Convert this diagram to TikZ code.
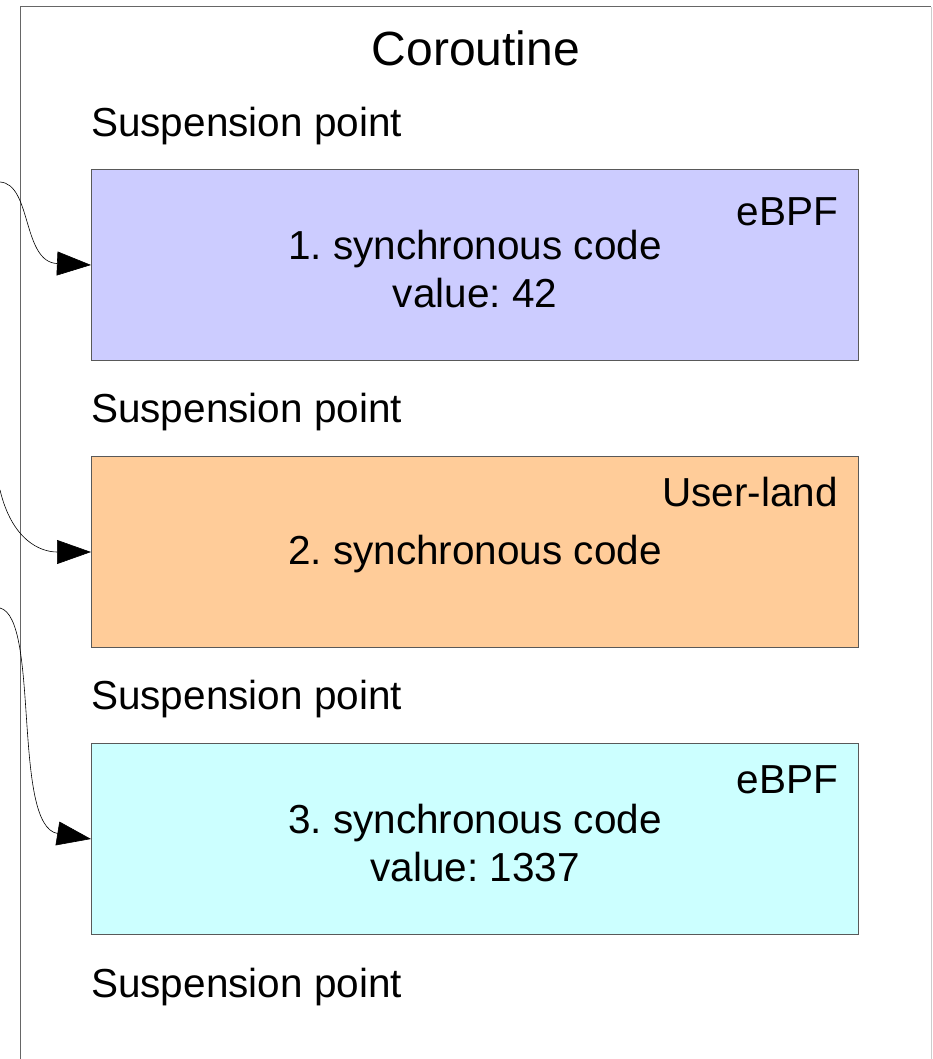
\documentclass[tikz,border=0pt]{standalone}
\usepackage{fontspec}
\setmainfont{Liberation Sans}
\usetikzlibrary{arrows.meta}
\frenchspacing

\begin{document}
\begin{tikzpicture}[x=1pt,y=-1pt,
    txt/.style={inner sep=0pt,font=\fontsize{40.5}{48}\selectfont},
    codebox/.style={draw=black!65,line width=1pt,minimum width=767pt,minimum height=191pt,anchor=north west,inner sep=0pt},
    jump/.style={line width=0.6pt,-{Triangle[length=34pt,width=24pt]}}]
    \useasboundingbox (0,0) rectangle (932,1059);
    \fill[white] (0,0) rectangle (932,1059);

    % coroutine frame
    \draw[black!60,line width=1pt] (20,1059) -- (20,7) -- (931,7);
    \draw[black!20,line width=1pt] (931,7) -- (931,1059);
    \node[txt,font=\fontsize{48}{56}\selectfont](title)at(476,48){Coroutine};

    \node[txt,anchor=west](susp1)at(91,126){Suspension point};
    \node[txt,anchor=west](susp2)at(91,412){Suspension point};
    \node[txt,anchor=west](susp3)at(91,699){Suspension point};
    \node[txt,anchor=west](susp4)at(91,987){Suspension point};

    \node[codebox,fill={rgb,255:red,204;green,204;blue,255}](syncA)at(91,169){};
    \node[codebox,fill={rgb,255:red,255;green,204;blue,153}](syncB)at(91,456){};
    \node[codebox,fill={rgb,255:red,204;green,255;blue,255}](syncC)at(91,743){};

    \node[txt,anchor=east](landA)at(838,212){eBPF};
    \node[txt,anchor=east](landB)at(838,492){User-land};
    \node[txt,anchor=east](landC)at(838,780){eBPF};

    \node[txt,align=center](codeA)at(475,269){1. synchronous code\\value: 42};
    \node[txt](codeB)at(475,554){2. synchronous code};
    \node[txt,align=center](codeC)at(475,843){3. synchronous code\\value: 1337};

    % resume arrows
    \coordinate (inA) at (0,182);
    \coordinate (inB) at (0,490);
    \coordinate (inC) at (0,608);
    \draw[jump] (inA) .. controls (32,184) and (22,262) .. (syncA.west);
    \draw[jump] (inB) .. controls (12,540) and (40,552) .. (syncB.west);
    \draw[jump] (inC) .. controls (40,618) and (12,826) .. (syncC.west);
  \end{tikzpicture}
\end{document}
